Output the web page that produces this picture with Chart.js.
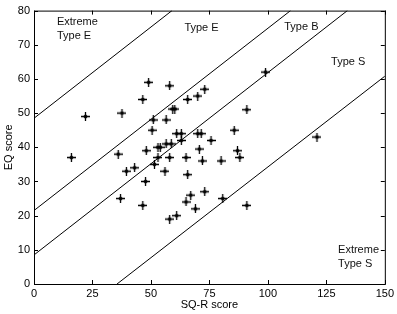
<!DOCTYPE html>
<html>
<head>
<meta charset="utf-8">
<script src="https://cdn.jsdelivr.net/npm/chart.js@4.4.1/dist/chart.umd.min.js"></script>
<style>
  html, body { margin: 0; padding: 0; background: #fff; }
  #wrap { width: 397px; height: 314px; }
</style>
</head>
<body>
<div id="wrap"><canvas id="eqChart" width="397" height="314"></canvas></div>
<script>
// SQ-R score (x) and EQ score (y) for each participant
const sqScores = [22, 37.6, 46.5, 49, 58, 73, 70, 65.7, 59.3, 60.2,
    51, 56.5, 50.5, 61, 63, 70, 71.5, 75.7, 63, 56.5,
    58.7, 53, 54, 48, 70.7, 16, 36, 53, 58, 65,
    80, 72, 51.5, 39.5, 43, 56, 65.7, 47.7, 67, 73,
    65, 69, 80.7, 46.5, 37, 58, 61, 99, 91, 85.6,
    87, 88, 91, 121];
const eqScores = [49, 50, 54, 59, 58, 57, 55, 54, 51.2, 51.2,
    48, 48, 45, 44, 44, 44, 44, 42, 42, 41,
    41, 40, 40, 39, 39.5, 37, 38, 37, 37, 37,
    36, 36, 35, 33, 34, 33, 32, 30, 26, 27,
    24, 22, 25, 23, 25, 19, 20, 62, 51, 45,
    39, 37, 23, 43];

// boundary lines between brain types: [x0, y0, x1, y1]
const boundaries = [
    [0, 48.5, 59, 80],
    [0, 21.5, 109.7, 80],
    [0, 8.5, 134, 80],
    [35.5, 0, 150, 60.8]
];

const xTicks = [0, 25, 50, 75, 100, 125, 150];
const yTicks = [0, 10, 20, 30, 40, 50, 60, 70, 80];

// region names, anchored in data units
const regionLabels = [
    { lines: ['Extreme', 'Type E'], x: 9.8, y: 76.8 },
    { lines: ['Type E'], x: 64.3, y: 74.8 },
    { lines: ['Type B'], x: 107, y: 75.1 },
    { lines: ['Type S'], x: 127, y: 65 },
    { lines: ['Extreme', 'Type S'], x: 130, y: 9.9 }
];

const FONT = '11px "Liberation Sans", Arial, sans-serif';

// the plot symbol: a plus with a heavy diamond centre
function makeMarker() {
    const c = document.createElement('canvas');
    c.width = 9;
    c.height = 9;
    const g = c.getContext('2d');
    g.fillStyle = '#000';
    g.strokeStyle = '#000';
    g.lineWidth = 1.3;
    g.beginPath();
    g.moveTo(4.5, 0); g.lineTo(4.5, 9);
    g.moveTo(0, 4.5); g.lineTo(9, 4.5);
    g.stroke();
    g.beginPath();
    g.moveTo(4.5, 2); g.lineTo(7, 4.5); g.lineTo(4.5, 7); g.lineTo(2, 4.5);
    g.closePath();
    g.fill();
    return c;
}

// box + inward tick marks on all four sides, plus region labels
const framePlugin = {
    id: 'frame',
    afterDraw(chart) {
        const ctx = chart.ctx;
        const area = chart.chartArea;
        const xs = chart.scales.x;
        const ys = chart.scales.y;
        ctx.save();
        ctx.strokeStyle = '#000';
        ctx.lineWidth = 1;
        ctx.strokeRect(area.left + 0.5, area.top + 0.5, area.right - area.left, area.bottom - area.top);
        ctx.beginPath();
        xTicks.forEach(v => {
            const px = Math.round(xs.getPixelForValue(v)) + 0.5;
            ctx.moveTo(px, area.bottom);
            ctx.lineTo(px, area.bottom - 4);
            ctx.moveTo(px, area.top);
            ctx.lineTo(px, area.top + 4);
        });
        yTicks.forEach(v => {
            const py = Math.round(ys.getPixelForValue(v)) + 0.5;
            ctx.moveTo(area.left, py);
            ctx.lineTo(area.left + 4, py);
            ctx.moveTo(area.right, py);
            ctx.lineTo(area.right - 4, py);
        });
        ctx.stroke();

        ctx.fillStyle = '#111';
        ctx.font = FONT;
        ctx.textAlign = 'left';
        ctx.textBaseline = 'middle';
        regionLabels.forEach(lab => {
            const px = xs.getPixelForValue(lab.x);
            const py = ys.getPixelForValue(lab.y);
            lab.lines.forEach((t, i) => ctx.fillText(t, px, py + i * 14));
        });
        ctx.restore();
    }
};

const datasets = [{
    type: 'scatter',
    label: 'participants',
    data: sqScores.map((x, i) => ({ x: x, y: eqScores[i] })),
    pointStyle: makeMarker(),
    pointRadius: 4.5
}];

boundaries.forEach((b, i) => {
    datasets.push({
        type: 'line',
        label: 'boundary ' + (i + 1),
        data: [{ x: b[0], y: b[1] }, { x: b[2], y: b[3] }],
        borderColor: '#000',
        borderWidth: 1,
        pointRadius: 0,
        tension: 0
    });
});

Chart.defaults.font.family = '"Liberation Sans", Arial, sans-serif';
Chart.defaults.font.size = 11;
Chart.defaults.color = '#000';

const ctx = document.getElementById('eqChart').getContext('2d');
new Chart(ctx, {
    data: { datasets: datasets },
    options: {
        responsive: false,
        animation: false,
        layout: { padding: { top: 7, right: 10, left: 0, bottom: 0 } },
        plugins: {
            legend: { display: false },
            tooltip: { enabled: false }
        },
        scales: {
            x: {
                type: 'linear',
                min: 0,
                max: 150,
                afterBuildTicks: scale => { scale.ticks = xTicks.map(v => ({ value: v })); },
                grid: { display: false, drawTicks: false },
                border: { display: false },
                ticks: { padding: 3, maxRotation: 0 },
                title: { display: true, text: 'SQ-R score', padding: { top: 0, bottom: 2 } },
                afterFit: scale => { scale.height = 30; }
            },
            y: {
                type: 'linear',
                min: 0,
                max: 80,
                afterBuildTicks: scale => { scale.ticks = yTicks.map(v => ({ value: v })); },
                grid: { display: false, drawTicks: false },
                border: { display: false },
                ticks: { padding: 4 },
                title: { display: true, text: 'EQ score', padding: { top: 2, bottom: 0 } },
                afterFit: scale => { scale.width = 34; }
            }
        }
    },
    plugins: [framePlugin]
});
</script>
</body>
</html>
